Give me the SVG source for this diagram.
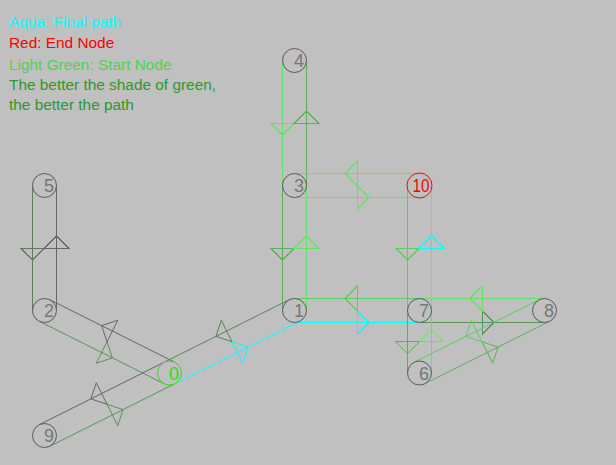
<svg xmlns="http://www.w3.org/2000/svg" width="616" height="465" viewBox="0 0 616 465">
<style>
text{font-family:"Liberation Sans",Arial,sans-serif}
.legend{font-size:15.4px}
#connectors *{fill:none;stroke-width:1}
#connectors .ax{shape-rendering:crispEdges}
.c1{stroke:#66e066}
.c2{stroke:#5fcc5f}
.c3{stroke:#5cb05c}
.c4{stroke:#5b925b}
.c5{stroke:#5e7e5e}
.c6{stroke:#626862}
.aq{stroke:#00ffff}
.node circle{fill:#c0c0c0;stroke:#595959;stroke-width:1}
.node text{font-size:18px;fill:#777777}
</style>
<rect width="616" height="465" fill="#c0c0c0"/>
<g id="legend" class="legend">
<text x="9" y="26.5" fill="#00ffff">Aqua: Final path</text>
<text x="9" y="48" fill="#ff0000">Red: End Node</text>
<text x="9" y="70" fill="#4fd24f">Light Green: Start Node</text>
<text x="9" y="90" fill="#2a9a2a">The better the shade of green,</text>
<text x="9" y="110" fill="#2a9a2a">the better the path</text>
</g>
<g id="connectors">
<g class="c1 ax"><line x1="282.5" y1="60.5" x2="282.5" y2="185.5"/><path d="M270.5 123H294.5L282.5 135Z"/></g>
<g class="c3 ax"><line x1="306.5" y1="185.5" x2="306.5" y2="60.5"/><path d="M294.5 123H318.5L306.5 111Z"/></g>
<g class="c3 ax"><line x1="282.5" y1="185.5" x2="282.5" y2="310.5"/><path d="M270.5 248H294.5L282.5 260Z"/></g>
<g class="c1 ax"><line x1="306.5" y1="310.5" x2="306.5" y2="185.5"/><path d="M294.5 248H318.5L306.5 236Z"/></g>
<g class="c1 ax"><line x1="294.5" y1="197.5" x2="419.5" y2="197.5"/><path d="M357 185.5V209.5L369 197.5Z"/></g>
<g class="c1 ax"><line x1="419.5" y1="173.5" x2="294.5" y2="173.5"/><path d="M357 161.5V185.5L345 173.5Z"/></g>
<g class="c2 ax"><line x1="407.5" y1="185.5" x2="407.5" y2="310.5"/><path d="M395.5 248H419.5L407.5 260Z"/></g>
<g class="aq ax"><line x1="431.5" y1="310.5" x2="431.5" y2="185.5"/><path d="M419.5 248H443.5L431.5 236Z"/></g>
<g class="c2 ax"><line x1="419.5" y1="298.5" x2="294.5" y2="298.5"/><path d="M357 286.5V310.5L345 298.5Z"/></g>
<g class="aq ax"><line x1="294.5" y1="322.5" x2="419.5" y2="322.5"/><path d="M357 310.5V334.5L369 322.5Z"/></g>
<g class="c4 ax"><line x1="419.5" y1="322.5" x2="544.5" y2="322.5"/><path d="M482 310.5V334.5L494 322.5Z"/></g>
<g class="c1 ax"><line x1="544.5" y1="298.5" x2="419.5" y2="298.5"/><path d="M482 286.5V310.5L470 298.5Z"/></g>
<g class="c3 ax"><line x1="407.5" y1="310.5" x2="407.5" y2="373"/><path d="M395.5 341.75H419.5L407.5 353.75Z"/></g>
<g class="c1 ax"><line x1="431.5" y1="373" x2="431.5" y2="310.5"/><path d="M419.5 341.75H443.5L431.5 329.75Z"/></g>
<g class="c5 ax"><line x1="32.5" y1="185.5" x2="32.5" y2="310.5"/><path d="M20.5 248H44.5L32.5 260Z"/></g>
<g class="c6 ax"><line x1="56.5" y1="310.5" x2="56.5" y2="185.5"/><path d="M44.5 248H68.5L56.5 236Z"/></g>
<path class="c3" d="M424.867 383.733L549.867 321.233M492.733 363.216L482 341.75L498.1 347.116Z"/>
<path class="c2" d="M539.133 299.767L414.133 362.267M471.267 320.284L482 341.75L465.9 336.384Z"/>
<path class="c4" d="M39.133 321.233L164.133 383.733M96.267 363.216L107 341.75L112.366 357.85Z"/>
<path class="c6" d="M174.867 362.267L49.867 299.767M117.733 320.284L107 341.75L101.634 325.65Z"/>
<path class="aq" d="M174.867 383.733L299.867 321.233M242.733 363.216L232 341.75L248.1 347.116Z"/>
<path class="c5" d="M289.133 299.767L164.133 362.267M221.267 320.284L232 341.75L215.9 336.384Z"/>
<path class="c4" d="M49.867 446.233L174.867 383.733M117.733 425.716L107 404.25L123.1 409.616Z"/>
<path class="c6" d="M164.133 362.267L39.133 424.767M96.267 382.784L107 404.25L90.9 398.884Z"/>
</g>
<g id="node-0" class="node"><circle cx="169.5" cy="373" r="12" style="stroke:#33dd11"/><text x="169" y="379.5" style="fill:#33dd11">0</text></g>
<g id="node-1" class="node"><circle cx="294.5" cy="310.5" r="12"/><text x="294" y="317">1</text></g>
<g id="node-2" class="node"><circle cx="44.5" cy="310.5" r="12"/><text x="44" y="317">2</text></g>
<g id="node-3" class="node"><circle cx="294.5" cy="185.5" r="12"/><text x="294" y="192">3</text></g>
<g id="node-4" class="node"><circle cx="294.5" cy="60.5" r="12"/><text x="294" y="67">4</text></g>
<g id="node-5" class="node"><circle cx="44.5" cy="185.5" r="12"/><text x="44" y="192">5</text></g>
<g id="node-6" class="node"><circle cx="419.5" cy="373" r="12"/><text x="419" y="379.5">6</text></g>
<g id="node-7" class="node"><circle cx="419.5" cy="310.5" r="12"/><text x="419" y="317">7</text></g>
<g id="node-8" class="node"><circle cx="544.5" cy="310.5" r="12"/><text x="544" y="317">8</text></g>
<g id="node-9" class="node"><circle cx="44.5" cy="435.5" r="12"/><text x="44" y="442">9</text></g>
<g id="node-10" class="node"><circle cx="419.5" cy="185.5" r="12.5" style="stroke:#ff0000"/><text x="412.5" y="192" textLength="17" lengthAdjust="spacingAndGlyphs" style="fill:#ff0000">10</text></g>
</svg>
